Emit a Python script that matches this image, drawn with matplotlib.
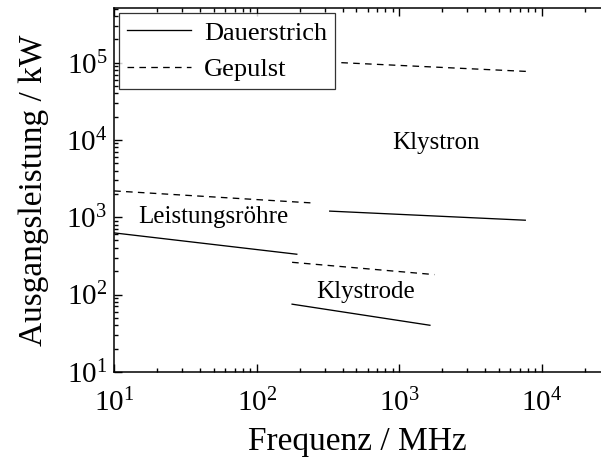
import numpy as np
import matplotlib
matplotlib.use('Agg')
import matplotlib.pyplot as plt
from matplotlib.ticker import LogLocator, NullFormatter

plt.rcParams['font.family'] = 'Liberation Serif'
plt.rcParams['mathtext.fontset'] = 'custom'
plt.rcParams['mathtext.rm'] = 'Liberation Serif'
plt.rcParams['mathtext.it'] = 'Liberation Serif:italic'

# (MHz, kW)
klystron_cw_f = [325, 7650]
klystron_cw_p = [1200, 915]
klystron_puls_f = [392, 7870]
klystron_puls_p = [100000, 77000]

roehre_cw_f = [10, 191]
roehre_cw_p = [627, 332]
roehre_puls_f = [10, 245]
roehre_puls_p = [2190, 1530]

klystrode_cw_f = [177, 1640]
klystrode_cw_p = [75, 40]
klystrode_puls_f = [177, 1762]
klystrode_puls_p = [261, 181]

labels = ["Klystron", "Leistungsröhre", "Klystrode"]
label_f = [1820, 49.5, 577]
label_p = [9200, 1000, 108]

fig = plt.figure(figsize=[6.01, 4.59], dpi=100)
ax = fig.add_axes([0.19, 0.19, 0.81, 0.7926])

lw = 0.95
dash = (0, (5, 4))
ax.plot(klystron_cw_f, klystron_cw_p, color='black', lw=lw, label='Dauerstrich')
ax.plot(klystron_puls_f, klystron_puls_p, color='black', lw=lw, ls=dash, label='Gepulst')
ax.plot(roehre_cw_f, roehre_cw_p, color='black', lw=lw)
ax.plot(roehre_puls_f, roehre_puls_p, color='black', lw=lw, ls=dash)
ax.plot(klystrode_cw_f, klystrode_cw_p, color='black', lw=lw)
ax.plot(klystrode_puls_f, klystrode_puls_p, color='black', lw=lw, ls=dash)

for t, xf, yp in zip(labels, label_f, label_p):
    ax.text(xf, yp, t, fontsize=18, ha='center', va='center')

ax.set_xscale('log')
ax.set_yscale('log')
ax.set_xlim(10, 2.6e4)
ax.set_ylim(10, 5.1e5)

ax.xaxis.set_major_locator(LogLocator(base=10, numticks=10))
ax.xaxis.set_minor_locator(LogLocator(base=10, subs=np.arange(2, 10), numticks=10))
ax.yaxis.set_major_locator(LogLocator(base=10, numticks=10))
ax.yaxis.set_minor_locator(LogLocator(base=10, subs=np.arange(2, 10), numticks=10))
ax.xaxis.set_minor_formatter(NullFormatter())
ax.yaxis.set_minor_formatter(NullFormatter())

ax.tick_params(which='both', direction='in', top=True, right=False, labelsize=21, width=1)
ax.tick_params(which='major', length=5.5)
ax.tick_params(which='minor', length=3)
ax.tick_params(axis='x', which='major', pad=12)
ax.tick_params(axis='y', which='major', pad=5)
ax.spines['right'].set_visible(False)
for s in ['left', 'bottom', 'top']:
    ax.spines[s].set_linewidth(1.1)

ax.set_xlabel("Frequenz / MHz", fontsize=24, labelpad=7)
ax.set_ylabel("Ausgangsleistung / kW", fontsize=24, labelpad=12)

leg = ax.legend(loc='upper left', fontsize=19, handlelength=2.4, frameon=True,
                fancybox=False, edgecolor='black', borderaxespad=0.2,
                borderpad=0.3, labelspacing=0.5, handletextpad=0.5)
leg.get_frame().set_linewidth(0.9)

fig.savefig('out.png', dpi=100)
